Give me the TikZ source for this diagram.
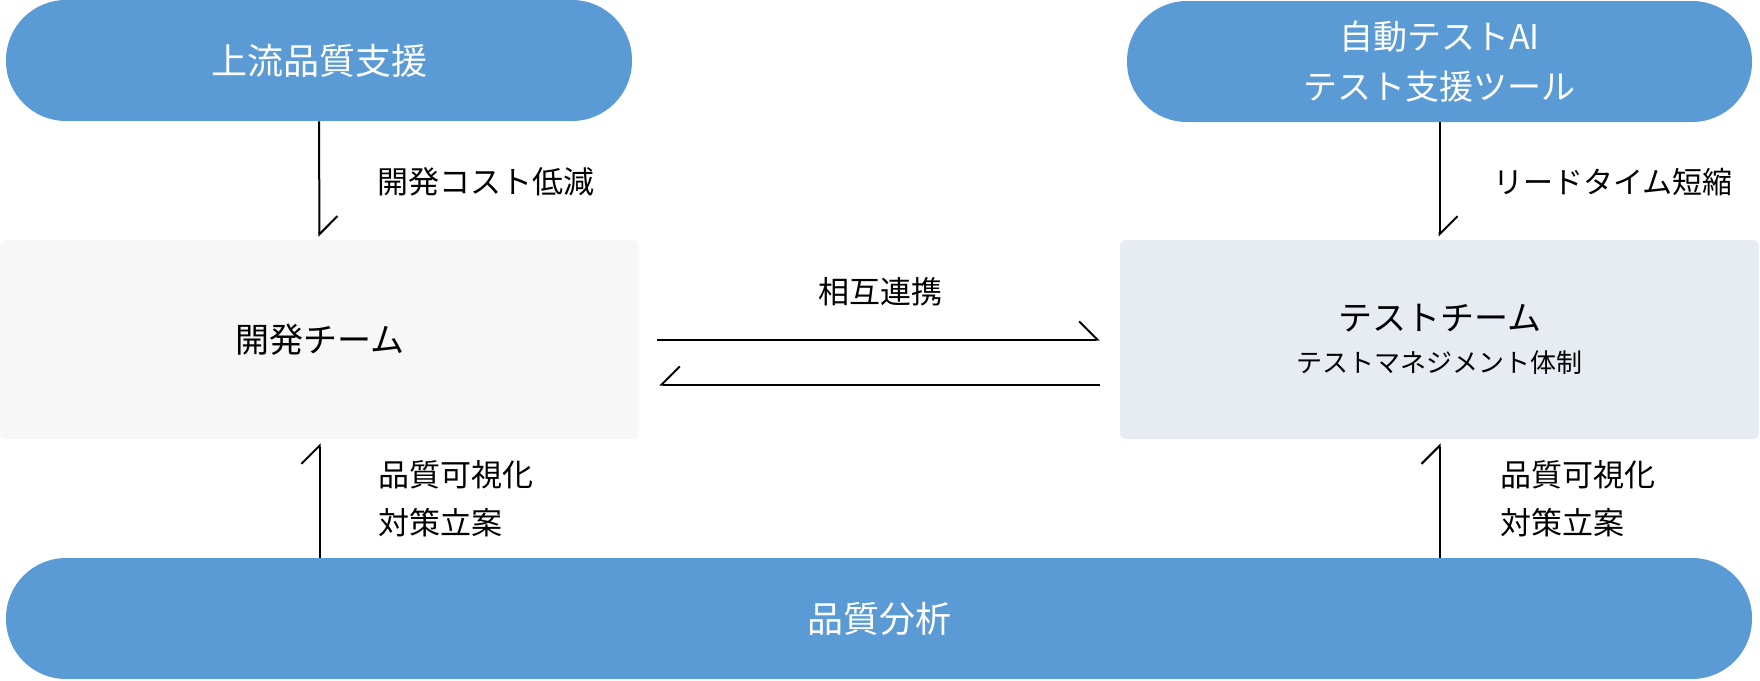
\documentclass[tikz,border=0pt]{standalone}
\usepackage{fontspec}
\setmainfont{Noto Sans CJK JP}
\usetikzlibrary{arrows.meta}
\definecolor{pillblue}{HTML}{5B9BD5}
\definecolor{devgray}{HTML}{F7F7F7}
\definecolor{testgray}{HTML}{E7ECF3}
\tikzset{
  pill/.style={draw=none, fill=pillblue, text=white, rounded corners=30pt,
    minimum height=60.5pt, inner sep=0pt, align=center,
    font=\fontsize{18pt}{25pt}\selectfont},
  teambox/.style={draw=none, rounded corners=3pt, minimum width=319.5pt,
    minimum height=99.5pt, inner sep=0pt, align=center},
  lbl/.style={inner sep=0pt, align=left, font=\fontsize{15.5pt}{24pt}\selectfont},
  harpL/.style={line width=1pt, -{Straight Barb[left, length=9pt, width=18pt]}},
  harpR/.style={line width=1pt, -{Straight Barb[right, length=9pt, width=18pt]}}
}
\begin{document}
\begin{tikzpicture}[x=0.5pt,y=-0.5pt]
\useasboundingbox (0,0) rectangle (1760,680);
% pills
\node[pill, minimum width=313pt] (tl) at (319,60.5) {上流品質支援};
\node[pill, minimum width=312.5pt, font=\fontsize{17pt}{25pt}\selectfont] (tr) at (1439.5,61.5) {自動テストAI\\テスト支援ツール};
\node[pill, minimum width=873pt] (bot) at (879,618.5) {品質分析};
% team boxes
\node[teambox, fill=devgray, font=\fontsize{17pt}{21pt}\selectfont] (dev) at (319.5,339.5) {開発チーム};
\node[teambox, fill=testgray, font=\fontsize{17pt}{21pt}\selectfont] (test) at (1439.5,339.5)
  {テストチーム\\\fontsize{13pt}{21.25pt}\selectfont テストマネジメント体制};
% labels
\node[lbl, anchor=west] (l1) at (377,182) {開発コスト低減};
\node[lbl, anchor=west, font=\fontsize{15pt}{24pt}\selectfont] (l2) at (1493,182) {リードタイム短縮};
\node[lbl, anchor=center] (l3) at (880,292) {相互連携};
\node[lbl, anchor=west] (l4) at (378,499) {品質可視化\\対策立案};
\node[lbl, anchor=west] (l5) at (1500,499) {品質可視化\\対策立案};
% connectors
\draw[harpL, shorten >=1.5pt] (tl.south) -- (dev.north);
\draw[harpL, shorten >=1.5pt] (tr.south) -- (test.north);
\draw[harpL, shorten >=2pt] (dev.south |- bot.north) -- (dev.south);
\draw[harpL, shorten >=2pt] (test.south |- bot.north) -- (test.south);
\draw[harpL, shorten <=9pt, shorten >=10pt] (dev.east) -- (test.west);
\draw[harpR, shorten <=10pt, shorten >=10pt] ([yshift=-22.5pt]test.west) -- ([yshift=-22.5pt]dev.east);
\end{tikzpicture}
\end{document}
